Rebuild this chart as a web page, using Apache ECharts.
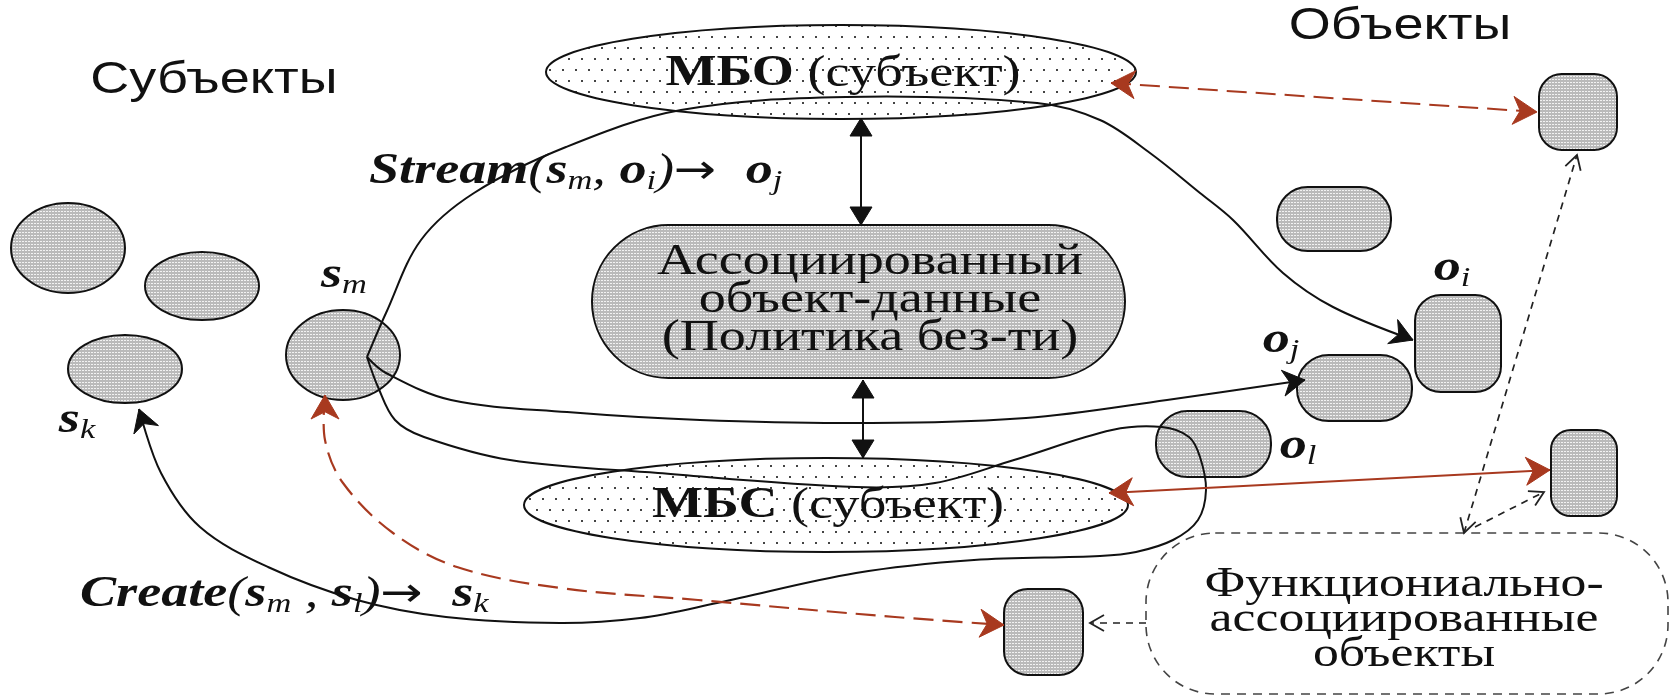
<!DOCTYPE html>
<html>
<head>
<meta charset="utf-8">
<script src="https://cdn.jsdelivr.net/npm/echarts@6/dist/echarts.min.js"></script>
<style>
  html, body { margin: 0; background: #fff; }
  #chart { width: 1671px; height: 696px; }
</style>
</head>
<body>
<div id="chart"></div>
<script>
// --- данные схемы (координаты в пикселях исходной картинки) ---
const headings = ['Субъекты', 'Объекты'];
const headingPos = [[214, 81], [1400, 27]];

// субъекты: центр x, центр y, полуось x, полуось y
const subjects = [[68, 248, 57, 45], [202, 286, 57, 34], [125, 369, 57, 34], [343, 355, 57, 45]];

// МБО и МБС
const monitors = [[841, 72, 295, 47], [826, 505, 302, 47]];
const monitorNames = ['МБО', 'МБС'];
const monitorTextPos = [[843, 74], [828, 506]];

// ассоциированный объект-данные: x0, y0, x1, y1
const policyBox = [[592, 225, 1125, 378]];
const policyLines = ['Ассоциированный', 'объект-данные', '(Политика без-ти)'];
const policyTextPos = [[870, 300]];

// объекты: x0, y0, x1, y1
const objects = [
  [1539, 74, 1617, 150], [1277, 187, 1391, 251], [1415, 295, 1501, 392],
  [1297, 355, 1412, 421], [1156, 411, 1271, 477], [1551, 430, 1617, 516],
  [1004, 589, 1083, 675]
];

// функционально-ассоциированные объекты
const faoBox = [[1146, 533, 1668, 694]];
const faoLines = ['Функциониально-', 'ассоциированные', 'объекты'];
const faoTextPos = [[1404, 620]];

// подписи переменных: буква, индекс, x, y
const varLetters = ['s', 's', 'o', 'o', 'o'];
const varIndexes = ['m', 'k', 'i', 'j', 'l'];
const varPos = [[344, 276], [77, 421], [1452, 269], [1281, 341], [1298, 447]];

const streamText = '{bi|Stream}{it|(}{bi|s}{sub|m}{it|, }{bi|o}{sub|i}{it|)}{ar|\u2192}{bi|o}{sub|j}';
const createText = '{bi|Create}{it|(}{bi|s}{sub|m}{it| , }{bi|s}{sub|l}{it|)}{ar|\u2192}{bi|s}{sub|k}';
const formulaPos = [[369, 172], [80, 595]];

// кривые потоков
const streamPath = [[367, 357], [386, 313], [421, 240], [474, 193], [566, 147], [681, 110], [846, 97], [1037, 103],
  [1100, 120], [1150, 153], [1200, 193], [1233, 220], [1283, 273], [1333, 307], [1413, 340]];
const toOjPath = [[367, 357], [386, 373], [451, 400], [567, 412], [700, 420], [854, 423], [1026, 418], [1167, 400], [1305, 380]];
const createPath = [[367, 357], [378, 387], [395, 420], [424, 437], [510, 460], [658, 473], [856, 487], [935, 483],
  [1014, 460], [1112, 430], [1162, 427], [1189, 437], [1200, 457], [1206, 490], [1198, 520], [1173, 540],
  [1136, 552], [1100, 556], [974, 560], [856, 573], [717, 603], [640, 618], [560, 623], [446, 617],
  [357, 600], [268, 567], [200, 527], [161, 473], [139, 409]];
const delegatePath = [[325, 395], [325, 440], [343, 483], [393, 533], [457, 567], [560, 588], [698, 600], [895, 617], [1004, 625]];

// прямые связи: x1, y1, x2, y2
const blackLinks = [[861, 118, 861, 225], [863, 380, 863, 458]];
const redDashedLinks = [[1111, 83, 1537, 112]];
const redSolidLinks = [[1109, 493, 1550, 470]];
const dashedDouble = [[1464, 533, 1577, 155]];
const dashedSingle = [[1475, 527, 1544, 492], [1146, 623, 1090, 623]];

// --- оформление ---
const SERIF = '"Liberation Serif", "Times New Roman", serif';
const SANS = '"Liberation Sans", Arial, sans-serif';
const INK = '#111';
const RED = '#a8391f';
const SX = 1.23;

function mkPattern(w, h, draw) {
  const c = document.createElement('canvas');
  c.width = w; c.height = h;
  draw(c.getContext('2d'));
  return { image: c, repeat: 'repeat' };
}
// мелкая серая штриховка
const grayFill = mkPattern(3, 3, g => {
  g.fillStyle = '#bababa'; g.fillRect(0, 0, 3, 3);
  g.fillStyle = '#f2f2f2'; g.fillRect(1, 1, 2, 1);
});
// редкие точки для МБО / МБС
const dotFill = mkPattern(13, 22, g => {
  g.fillStyle = '#fff'; g.fillRect(0, 0, 13, 22);
  g.fillStyle = '#444'; g.fillRect(3, 3, 2, 2); g.fillRect(9, 14, 2, 2);
});

function head(tip, from, len, half, notch, color) {
  const dx = tip[0] - from[0], dy = tip[1] - from[1];
  const d = Math.hypot(dx, dy) || 1;
  const ux = dx / d, uy = dy / d, nx = -uy, ny = ux;
  const bx = tip[0] - ux * len, by = tip[1] - uy * len;
  return {
    type: 'polygon',
    shape: { points: [tip, [bx + nx * half, by + ny * half], [tip[0] - ux * len * notch, tip[1] - uy * len * notch], [bx - nx * half, by - ny * half]] },
    style: { fill: color, stroke: color, lineWidth: 1 }
  };
}
function openHead(tip, from, len, half, color) {
  const dx = tip[0] - from[0], dy = tip[1] - from[1];
  const d = Math.hypot(dx, dy) || 1;
  const ux = dx / d, uy = dy / d, nx = -uy, ny = ux;
  const bx = tip[0] - ux * len, by = tip[1] - uy * len;
  return {
    type: 'polyline',
    shape: { points: [[bx + nx * half, by + ny * half], tip, [bx - nx * half, by - ny * half]] },
    style: { fill: 'none', stroke: color, lineWidth: 1.8 }
  };
}

const ellipseItem = fill => (params, api) => {
  const c = api.coord([api.value(0), api.value(1)]);
  const s = api.size([api.value(2), api.value(3)]);
  return {
    type: 'ellipse',
    shape: { cx: c[0], cy: c[1], rx: Math.abs(s[0]), ry: Math.abs(s[1]) },
    style: { fill: fill, stroke: INK, lineWidth: 2 }
  };
};

const boxItem = (fill, stroke, dash, radius) => (params, api) => {
  const p0 = api.coord([api.value(0), api.value(1)]);
  const p1 = api.coord([api.value(2), api.value(3)]);
  const x = Math.min(p0[0], p1[0]), y = Math.min(p0[1], p1[1]);
  const w = Math.abs(p1[0] - p0[0]), h = Math.abs(p1[1] - p0[1]);
  return {
    type: 'rect',
    shape: { x: x, y: y, width: w, height: h, r: radius(w, h) },
    style: { fill: fill, stroke: stroke, lineWidth: dash ? 1.6 : 2, lineDash: dash }
  };
};
const objRadius = (w, h) => (w > h * 1.3 ? h * 0.48 : Math.min(w, h) * 0.3);

const curves = [streamPath, toOjPath, createPath, delegatePath];
function curveItem(params, api) {
  const i = params.dataIndex;
  const pts = curves[i].map(p => api.coord(p));
  const n = pts.length;
  const red = i === 3;
  const color = red ? RED : INK;
  const kids = [{
    type: 'polyline',
    shape: { points: pts, smooth: 0.35 },
    style: { fill: 'none', stroke: color, lineWidth: red ? 2.2 : 2, lineDash: red ? [20, 9] : null }
  }];
  if (red) {
    kids.push(head(pts[n - 1], pts[n - 2], 24, 14, 0.7, RED));
    kids.push(head(pts[0], pts[1], 24, 14, 0.7, RED));
  } else {
    kids.push(head(pts[n - 1], pts[n - 2], 22, 13, 0.7, INK));
  }
  return { type: 'group', children: kids };
}

const linkItem = (color, dash, heads, open) => (params, api) => {
  const a = api.coord([api.value(0), api.value(1)]);
  const b = api.coord([api.value(2), api.value(3)]);
  const kids = [{
    type: 'line',
    shape: { x1: a[0], y1: a[1], x2: b[0], y2: b[1] },
    style: { stroke: color, lineWidth: open ? 1.7 : 2, lineDash: dash }
  }];
  const mk = (tip, from) => open ? openHead(tip, from, 14, 8, color)
    : (color === RED ? head(tip, from, 24, 14, 0.7, color) : head(tip, from, 18, 11, 1, color));
  kids.push(mk(b, a));
  if (heads === 2) kids.push(mk(a, b));
  return { type: 'group', children: kids };
};

const mathRich = {
  bi: { fontFamily: SERIF, fontSize: 44, fontStyle: 'italic', fontWeight: 'bold', fill: INK },
  it: { fontFamily: SERIF, fontSize: 44, fontStyle: 'italic', fill: INK },
  sub: { fontFamily: SERIF, fontSize: 28, fontStyle: 'italic', fill: INK, padding: [20, 0, 0, 0] },
  ar: { fontFamily: '"DejaVu Sans"', fontSize: 41, fill: INK, padding: [0, 24, 0, 0] }
};

const textItem = (getText, style) => (params, api) => {
  const p = api.coord([api.value(0), api.value(1)]);
  return {
    type: 'text', x: p[0], y: p[1], scaleX: style.scaleX || SX,
    style: Object.assign({ text: getText(params.dataIndex), fill: INK, align: 'center', verticalAlign: 'middle' }, style.text)
  };
};

const custom = (name, data, renderItem, z) => ({
  type: 'custom', name: name, data: data, renderItem: renderItem, z: z, clip: false, silent: true
});

const chart = echarts.init(document.getElementById('chart'));
chart.setOption({
  animation: false,
  backgroundColor: '#fff',
  grid: { left: 0, right: 0, top: 0, bottom: 0 },
  xAxis: { type: 'value', min: 0, max: 1671, show: false },
  yAxis: { type: 'value', min: 0, max: 696, inverse: true, show: false },
  series: [
    custom('subjects', subjects, ellipseItem(grayFill), 1),
    custom('monitors', monitors, ellipseItem(dotFill), 1),
    custom('policy', policyBox, boxItem(grayFill, INK, null, (w, h) => h / 2), 1),
    custom('objects', objects, boxItem(grayFill, INK, null, objRadius), 1),
    custom('fao', faoBox, boxItem('none', '#444', [9, 7], (w, h) => h * 0.43), 1),
    custom('curves', curves.map((c, i) => [i, 0]), curveItem, 2),
    custom('blackLinks', blackLinks, linkItem(INK, null, 2, false), 2),
    custom('redDashed', redDashedLinks, linkItem(RED, [20, 9], 2, false), 2),
    custom('redSolid', redSolidLinks, linkItem(RED, null, 2, false), 2),
    custom('dashedDouble', dashedDouble, linkItem('#222', [7, 6], 2, true), 2),
    custom('dashedSingle', dashedSingle, linkItem('#222', [7, 6], 1, true), 2),
    custom('headings', headingPos, textItem(i => headings[i],
      { scaleX: 1.2, text: { fontFamily: SANS, fontSize: 45 } }), 3),
    custom('monitorNames', monitorTextPos, textItem(i => '{b|' + monitorNames[i] + '}{r| (субъект)}', {
      text: { rich: {
        b: { fontFamily: SERIF, fontSize: 44, fontWeight: 'bold', fill: INK },
        r: { fontFamily: SERIF, fontSize: 44, fill: INK }
      } }
    }), 3),
    custom('policyText', policyTextPos, textItem(() => policyLines.join('\n'),
      { text: { fontFamily: SERIF, fontSize: 44, lineHeight: 38 } }), 3),
    custom('faoText', faoTextPos, textItem(() => faoLines.join('\n'),
      { text: { fontFamily: SERIF, fontSize: 42, lineHeight: 35 } }), 3),
    custom('vars', varPos, textItem(i => '{bi|' + varLetters[i] + '}{sub|' + varIndexes[i] + '}',
      { text: { rich: mathRich } }), 3),
    custom('formulas', formulaPos, textItem(i => (i === 0 ? streamText : createText),
      { text: { rich: mathRich, align: 'left' } }), 3)
  ]
});
</script>
</body>
</html>
